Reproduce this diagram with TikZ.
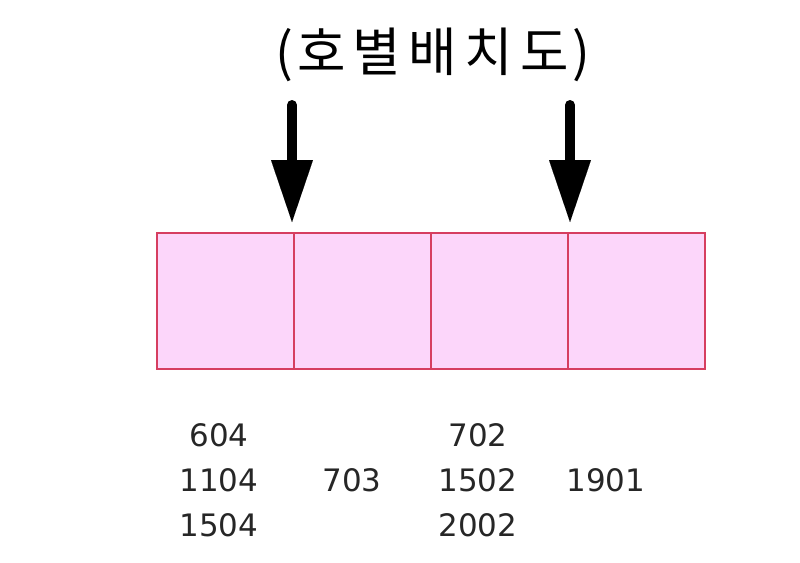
\documentclass[tikz,border=0pt]{standalone}
\usepackage{fontspec}
\usetikzlibrary{arrows.meta}
\newfontfamily\krfont{Noto Sans CJK KR}
\newfontfamily\numfont{DejaVu Sans}
\definecolor{cellfill}{RGB}{252,214,250}
\definecolor{cellline}{RGB}{214,62,96}
\newcommand{\hg}{\hspace{5.5pt}}
\begin{document}
\begin{tikzpicture}[x=0.75pt,y=-0.75pt,
  cell/.style={draw=cellline,fill=cellfill,line width=1.6pt,minimum width=102.75pt,minimum height=102pt,inner sep=0pt,outer sep=0pt},
  numlbl/.style={font=\numfont\fontsize{23.2}{33.75}\selectfont,align=center,inner sep=0pt,text=black!85},
  bigarrow/.style={line width=7.5pt,line cap=round,-{Triangle[width=31.5pt,length=46.5pt,line width=0.01pt]}}]
\useasboundingbox (0,0) rectangle (800,562);
\node[font=\krfont\fontsize{39.5}{42}\selectfont] (title) at (433,55) {(\hspace{3pt}호\hg 별\hg 배\hg 치\hg 도\hspace{3pt})};
\node[cell,anchor=north west] (b1) at (157,233) {};
\node[cell,anchor=west] (b2) at (b1.east) {};
\node[cell,anchor=west] (b3) at (b2.east) {};
\node[cell,anchor=west] (b4) at (b3.east) {};
\coordinate (a1s) at (292,105);
\coordinate (a1e) at (292,222);
\coordinate (a2s) at (570,105);
\coordinate (a2e) at (570,222);
\draw[bigarrow] (a1s) -- (a1e);
\draw[bigarrow] (a2s) -- (a2e);
\node[numlbl] (l1) at (219,480) {604\\1104\\1504};
\node[numlbl] (l2) at (352,480) {703};
\node[numlbl] (l3) at (478,480) {702\\1502\\2002};
\node[numlbl] (l4) at (606,480) {1901};
\end{tikzpicture}
\end{document}
